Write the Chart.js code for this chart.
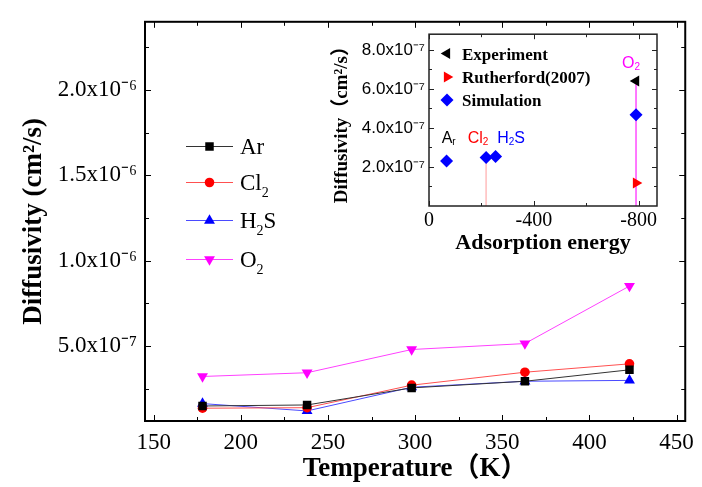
<!DOCTYPE html>
<html><head><meta charset="utf-8">
<script src="https://cdn.jsdelivr.net/npm/chart.js@4.4.1/dist/chart.umd.min.js"></script>
<style>
html,body{margin:0;padding:0;background:#fff;}
#wrap{position:relative;width:702px;height:487px;overflow:hidden;}
#main{position:absolute;left:0;top:0;}
#inset{position:absolute;left:325px;top:20px;}
</style></head><body>
<div id="wrap">
<canvas id="main" width="702" height="487"></canvas>
<canvas id="inset" width="345" height="245"></canvas>
</div>
<script>
// ---------- main chart data ----------
const temperatures = [178, 238, 298, 363, 423];
const seriesNames = ['Ar', 'Cl₂', 'H₂S', 'O₂'];
const arValues  = [0.148e-6, 0.154e-6, 0.254e-6, 0.293e-6, 0.360e-6];
const cl2Values = [0.135e-6, 0.138e-6, 0.270e-6, 0.346e-6, 0.395e-6];
const h2sValues = [0.162e-6, 0.119e-6, 0.258e-6, 0.293e-6, 0.298e-6];
const o2Values  = [0.321e-6, 0.343e-6, 0.479e-6, 0.514e-6, 0.851e-6];
const xTickValues = [150, 175, 200, 225, 250, 275, 300, 325, 350, 375, 400, 425, 450];
const xLabelValues = [150, 200, 250, 300, 350, 400, 450];
const yTickValues = [0.25e-6, 0.5e-6, 0.75e-6, 1.0e-6, 1.25e-6, 1.5e-6, 1.75e-6, 2.0e-6, 2.25e-6];
const yLabelValues = [0.5e-6, 1.0e-6, 1.5e-6, 2.0e-6];

// ---------- inset data ----------
const gasNames = ['Ar', 'Cl₂', 'H₂S', 'O₂'];
const adsorptionEnergy = [-67, -218, -254, -790];
const simulationValues = [2.31e-7, 2.48e-7, 2.53e-7, 4.67e-7];
const experimentEnergy = [-790];
const experimentValues = [6.4e-7];
const rutherfordEnergy = [-790];
const rutherfordValues = [1.18e-7];
const insetXTickValues = [0, -200, -400, -600, -800];
const insetXLabelValues = [0, -400, -800];
const insetYTickValues = [1e-7, 2e-7, 3e-7, 4e-7, 5e-7, 6e-7, 7e-7, 8e-7];
const insetYLabelValues = [2e-7, 4e-7, 6e-7, 8e-7];

// ---------- helpers ----------
const SUP = {'-':'⁻','0':'⁰','1':'¹','2':'²','3':'³','4':'⁴','5':'⁵','6':'⁶','7':'⁷','8':'⁸','9':'⁹'};
const SUBMAP = {'₂':'2'};
function sci(v){
  const e = Math.floor(Math.log10(v) + 1e-9);
  const m = v / Math.pow(10, e);
  return m.toFixed(1) + 'x10' + String(e).split('').map(c => SUP[c]).join('');
}
function near(list, v){ return list.some(l => Math.abs(l - v) < Math.abs(l) * 1e-6 + 1e-15); }
function pts(xs, ys){ return xs.map((x, i) => ({x: x, y: ys[i]})); }

function drawRich(ctx, text, x, y, o){
  const segs = [];
  [...text].forEach((ch, i) => {
    let c = ch, sub = false;
    if (SUBMAP[ch]) { c = SUBMAP[ch]; sub = true; }
    if (o.small && o.small.includes(i)) sub = true;
    segs.push({c, sub});
  });
  const font = s => `${o.weight || 'normal'} ${s ? Math.round(o.size * o.subScale) : o.size}px ${o.family}`;
  let w = 0;
  segs.forEach(s => { ctx.font = font(s.sub); s.w = ctx.measureText(s.c).width; w += s.w; });
  let cx = o.align === 'center' ? x - w / 2 : x;
  ctx.fillStyle = o.color;
  ctx.textBaseline = 'alphabetic';
  ctx.textAlign = 'left';
  segs.forEach(s => { ctx.font = font(s.sub); ctx.fillText(s.c, cx, y + (s.sub ? o.subDrop : 0)); cx += s.w; });
}

function marker(ctx, style, rot, r, x, y, color){
  ctx.save();
  ctx.translate(x, y);
  ctx.rotate((rot || 0) * Math.PI / 180);
  ctx.fillStyle = color;
  ctx.beginPath();
  if (style === 'circle') ctx.arc(0, 0, r, 0, 2 * Math.PI);
  else if (style === 'rect') { const s = r * Math.SQRT1_2; ctx.rect(-s, -s, 2 * s, 2 * s); }
  else if (style === 'rectRot') { ctx.moveTo(0, -r); ctx.lineTo(r, 0); ctx.lineTo(0, r); ctx.lineTo(-r, 0); ctx.closePath(); }
  else if (style === 'triangle') {
    for (let k = 0; k < 3; k++) {
      const a = k * 2 * Math.PI / 3;
      const px = Math.sin(a) * r, py = -Math.cos(a) * r;
      if (k === 0) ctx.moveTo(px, py); else ctx.lineTo(px, py);
    }
    ctx.closePath();
  }
  ctx.fill();
  ctx.restore();
}

const framePlugin = {
  id: 'frame',
  afterDraw(chart, args, opts){
    const {ctx, chartArea: a} = chart;
    const xs = chart.scales.x, ys = chart.scales.y;
    ctx.save();
    ctx.strokeStyle = opts.color;
    ctx.lineWidth = 1;
    xs.ticks.forEach(t => {
      const px = Math.round(xs.getPixelForValue(t.value)) + 0.5;
      const L = t.label !== '' ? opts.major : opts.minor;
      ctx.beginPath();
      ctx.moveTo(px, a.bottom); ctx.lineTo(px, a.bottom - L);
      ctx.moveTo(px, a.top); ctx.lineTo(px, a.top + L);
      ctx.stroke();
    });
    ys.ticks.forEach(t => {
      const py = Math.round(ys.getPixelForValue(t.value)) + 0.5;
      const L = t.label !== '' ? opts.major : opts.minor;
      ctx.beginPath();
      ctx.moveTo(a.left, py); ctx.lineTo(a.left + L, py);
      ctx.moveTo(a.right, py); ctx.lineTo(a.right - L, py);
      ctx.stroke();
    });
    ctx.lineWidth = opts.width;
    ctx.strokeRect(a.left, a.top, a.right - a.left, a.bottom - a.top);
    ctx.restore();
  }
};

const mainLegendPlugin = {
  id: 'mainLegend',
  afterDraw(chart, args, o){
    const ctx = chart.ctx;
    ctx.save();
    chart.data.datasets.forEach((ds, i) => {
      const y = o.rows[i];
      ctx.strokeStyle = ds.borderColor;
      ctx.lineWidth = 1;
      ctx.beginPath(); ctx.moveTo(o.x0, y + 0.5); ctx.lineTo(o.x1, y + 0.5); ctx.stroke();
      marker(ctx, ds.pointStyle, ds.pointRotation, ds.pointRadius, o.mx, y + 0.5, ds.pointBackgroundColor);
      drawRich(ctx, ds.label, o.tx, y + o.baseOff, {size: o.size, family: o.family, color: '#000', subScale: 0.62, subDrop: 7, align: 'left'});
    });
    ctx.restore();
  }
};

const insetExtrasPlugin = {
  id: 'insetExtras',
  afterDraw(chart, args, o){
    const ctx = chart.ctx;
    ctx.save();
    // legend
    let row = 0;
    chart.data.datasets.forEach(ds => {
      if (!ds.inLegend) return;
      const y = o.rows[row++];
      marker(ctx, ds.pointStyle, ds.pointRotation, ds.pointRadius, o.mx, y, ds.pointBackgroundColor);
      drawRich(ctx, ds.label, o.tx, y + 6, {size: 17, family: "'Liberation Serif'", weight: 'bold', color: '#000', subScale: 0.6, subDrop: 4, align: 'left'});
    });
    // gas annotations
    const xs = chart.scales.x, ys = chart.scales.y;
    o.notes.forEach(n => {
      drawRich(ctx, n.text, xs.getPixelForValue(n.x), ys.getPixelForValue(n.y), {size: 16, family: "'Liberation Sans'", color: n.color, subScale: 0.62, subDrop: 2, align: 'center', small: n.small});
    });
    ctx.restore();
  }
};

// ---------- main chart ----------
const markerStyles = [
  {pointStyle: 'rect', rot: 0, r: 6, color: '#000000', line: '#333333'},
  {pointStyle: 'circle', rot: 0, r: 4.8, color: '#ff0000', line: '#ff5050'},
  {pointStyle: 'triangle', rot: 0, r: 6.3, color: '#0000ff', line: '#4a4aff'},
  {pointStyle: 'triangle', rot: 180, r: 6.3, color: '#ff00ff', line: '#ff40ff'}
];
const seriesValues = [arValues, cl2Values, h2sValues, o2Values];

new Chart(document.getElementById('main'), {
  type: 'line',
  data: {
    datasets: seriesValues.map((vals, i) => ({
      label: seriesNames[i],
      data: pts(temperatures, vals),
      borderColor: markerStyles[i].line,
      borderWidth: 1,
      pointStyle: markerStyles[i].pointStyle,
      pointRotation: markerStyles[i].rot,
      pointRadius: markerStyles[i].r,
      pointBackgroundColor: markerStyles[i].color,
      pointBorderColor: markerStyles[i].color,
      pointBorderWidth: 0,
      fill: false,
      tension: 0
    }))
  },
  options: {
    responsive: false,
    animation: false,
    devicePixelRatio: 1,
    layout: {padding: {top: 15, right: 14, left: 0, bottom: 0}},
    plugins: {
      legend: {display: false},
      tooltip: {enabled: false},
      frame: {color: '#000', width: 2, major: 6, minor: 4},
      mainLegend: {rows: [146, 182, 220, 259], x0: 186, x1: 233, mx: 209.5, tx: 240, baseOff: 8, size: 23, family: "'Liberation Serif'"}
    },
    scales: {
      x: {
        type: 'linear', min: 145, max: 455,
        afterBuildTicks: s => { s.ticks = xTickValues.map(v => ({value: v})); },
        afterFit: s => { s.height = 66; },
        grid: {display: false, drawTicks: false},
        border: {display: false},
        ticks: {autoSkip: false, maxRotation: 0, padding: 8, color: '#000',
          font: {family: "'Liberation Serif'", size: 23},
          callback: v => near(xLabelValues, v) ? String(v) : ''},
        title: {display: true, text: 'Temperature（K）', color: '#000',
          font: {family: "'Liberation Serif','Noto Sans CJK SC'", size: 27, weight: 'bold'},
          padding: {top: 0, bottom: 2}}
      },
      y: {
        type: 'linear', min: 0.06e-6, max: 2.4e-6,
        afterBuildTicks: s => { s.ticks = yTickValues.map(v => ({value: v})); },
        afterFit: s => { s.width = 145; },
        grid: {display: false, drawTicks: false},
        border: {display: false},
        ticks: {autoSkip: false, padding: 8, color: '#000',
          font: {family: "'Liberation Serif'", size: 23},
          callback: v => near(yLabelValues, v) ? sci(v) : ''},
        title: {display: true, text: 'Diffusivity (cm²/s)', color: '#000',
          font: {family: "'Liberation Serif'", size: 27, weight: 'bold'},
          padding: {top: 18, bottom: 0}}
      }
    }
  },
  plugins: [framePlugin, mainLegendPlugin]
});

// ---------- inset chart ----------
new Chart(document.getElementById('inset'), {
  type: 'scatter',
  data: {
    datasets: [
      {label: 'Experiment', inLegend: true, data: pts(experimentEnergy, experimentValues),
        pointStyle: 'triangle', pointRotation: -90, pointRadius: 6.3,
        pointBackgroundColor: '#000000', pointBorderColor: '#000000', pointBorderWidth: 0, order: 1},
      {label: 'Rutherford(2007)', inLegend: true, data: pts(rutherfordEnergy, rutherfordValues),
        pointStyle: 'triangle', pointRotation: 90, pointRadius: 6.3,
        pointBackgroundColor: '#ff0000', pointBorderColor: '#ff0000', pointBorderWidth: 0, order: 1},
      {label: 'Simulation', inLegend: true, data: pts(adsorptionEnergy, simulationValues),
        pointStyle: 'rectRot', pointRadius: 6.5,
        pointBackgroundColor: '#0000ff', pointBorderColor: '#0000ff', pointBorderWidth: 0, order: 1},
      {label: 'O₂ drop', data: [{x: experimentEnergy[0], y: experimentValues[0]}, {x: experimentEnergy[0], y: 0}],
        showLine: true, borderColor: '#ff66ff', borderWidth: 1, pointRadius: 0, order: 10},
      {label: 'Cl₂ drop', data: [{x: adsorptionEnergy[1], y: simulationValues[1]}, {x: adsorptionEnergy[1], y: 0}],
        showLine: true, borderColor: '#ffc4c4', borderWidth: 1, pointRadius: 0, order: 10}
    ]
  },
  options: {
    responsive: false,
    animation: false,
    devicePixelRatio: 1,
    layout: {padding: {top: 10, right: 13, left: 0, bottom: 0}},
    plugins: {
      legend: {display: false},
      tooltip: {enabled: false},
      frame: {color: '#222', width: 1.5, major: 5, minor: 3},
      insetExtras: {
        rows: [33.5, 57, 80], mx: 122, tx: 137,
        notes: [
          {text: 'Ar', small: [1], x: -75, y: 3.25e-7, color: '#000000'},
          {text: 'Cl₂', x: -187, y: 3.25e-7, color: '#ff0000'},
          {text: 'H₂S', x: -313, y: 3.25e-7, color: '#0000ff'},
          {text: 'O₂', x: -771, y: 7.05e-7, color: '#ff00ff'}
        ]
      }
    },
    scales: {
      x: {
        type: 'linear', min: -870, max: 0, reverse: true,
        afterBuildTicks: s => { s.ticks = insetXTickValues.map(v => ({value: v})); },
        afterFit: s => { s.height = 59; },
        grid: {display: false, drawTicks: false},
        border: {display: false},
        ticks: {autoSkip: false, maxRotation: 0, padding: 3, color: '#000',
          font: {family: "'Liberation Serif'", size: 20},
          callback: v => near(insetXLabelValues, v) || v === 0 ? String(v) : ''},
        title: {display: true, text: 'Adsorption energy', color: '#000',
          font: {family: "'Liberation Serif'", size: 22, weight: 'bold'},
          padding: {top: 0, bottom: 8}}
      },
      y: {
        type: 'linear', min: 0, max: 8.8e-7,
        afterBuildTicks: s => { s.ticks = insetYTickValues.map(v => ({value: v})); },
        afterFit: s => { s.width = 104; },
        grid: {display: false, drawTicks: false},
        border: {display: false},
        ticks: {autoSkip: false, padding: 4, color: '#000',
          font: {family: "'Liberation Sans'", size: 17},
          callback: v => near(insetYLabelValues, v) ? sci(v) : ''},
        title: {display: true, text: 'Diffusivity（cm²/s）', color: '#000',
          font: {family: "'Liberation Serif','Noto Sans CJK SC'", size: 19, weight: 'bold'},
          padding: {top: 6, bottom: 0}}
      }
    }
  },
  plugins: [framePlugin, insetExtrasPlugin]
});
</script>
</body></html>
